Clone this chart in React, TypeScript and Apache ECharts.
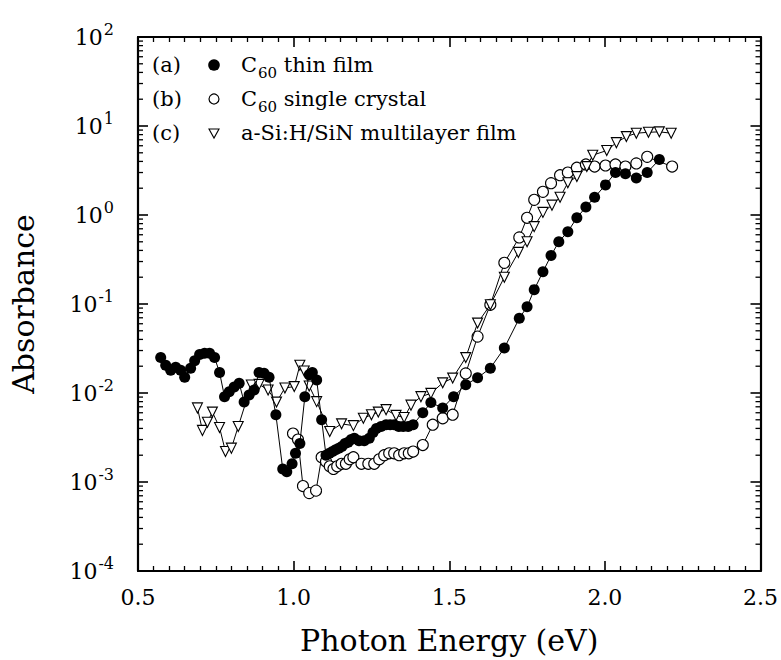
import React, { useEffect, useRef } from "react";
import * as echarts from "echarts";

// (a) C60 thin film  (filled circles)
const energyA = [0.573, 0.589, 0.605, 0.621, 0.637, 0.650, 0.669, 0.682, 0.698, 0.714, 0.730, 0.746, 0.762, 0.778, 0.793, 0.809, 0.825, 0.841, 0.857, 0.873, 0.889, 0.905, 0.921, 0.943, 0.965, 0.978, 0.995, 1.006, 1.020, 1.036, 1.050, 1.060, 1.074, 1.090, 1.104, 1.115, 1.125, 1.135, 1.145, 1.155, 1.165, 1.175, 1.185, 1.195, 1.210, 1.227, 1.243, 1.255, 1.266, 1.281, 1.297, 1.310, 1.323, 1.338, 1.352, 1.368, 1.384, 1.415, 1.441, 1.479, 1.514, 1.553, 1.591, 1.632, 1.677, 1.725, 1.750, 1.773, 1.801, 1.827, 1.852, 1.881, 1.910, 1.939, 1.967, 2.002, 2.034, 2.066, 2.101, 2.136, 2.175];
const absA = [0.025, 0.0205, 0.018, 0.0195, 0.018, 0.015, 0.019, 0.023, 0.027, 0.028, 0.028, 0.025, 0.017, 0.0091, 0.0103, 0.0117, 0.0129, 0.0079, 0.0095, 0.0108, 0.017, 0.0167, 0.015, 0.0057, 0.0014, 0.0013, 0.0016, 0.0021, 0.0027, 0.0091, 0.016, 0.017, 0.014, 0.005, 0.002, 0.0021, 0.0022, 0.0023, 0.0024, 0.0025, 0.0027, 0.0028, 0.003, 0.0031, 0.0029, 0.0029, 0.0031, 0.0036, 0.004, 0.0042, 0.0044, 0.0044, 0.0044, 0.0042, 0.0042, 0.0042, 0.0044, 0.006, 0.0078, 0.0068, 0.0091, 0.0124, 0.0148, 0.019, 0.032, 0.069, 0.093, 0.145, 0.23, 0.35, 0.5, 0.65, 0.93, 1.23, 1.58, 2.18, 3.0, 2.9, 2.6, 3.0, 4.2];

// (b) C60 single crystal (open circles)
const energyB = [0.998, 1.014, 1.030, 1.050, 1.072, 1.090, 1.104, 1.116, 1.128, 1.140, 1.154, 1.168, 1.180, 1.192, 1.218, 1.240, 1.259, 1.275, 1.291, 1.307, 1.323, 1.339, 1.355, 1.370, 1.384, 1.415, 1.447, 1.479, 1.511, 1.553, 1.591, 1.632, 1.677, 1.725, 1.750, 1.773, 1.801, 1.827, 1.856, 1.881, 1.910, 1.939, 1.967, 2.002, 2.034, 2.066, 2.101, 2.136, 2.216];
const absB = [0.0035, 0.003, 0.0009, 0.00075, 0.0008, 0.0019, 0.0017, 0.0015, 0.0014, 0.0015, 0.0016, 0.0016, 0.0018, 0.0019, 0.0016, 0.0016, 0.0016, 0.0018, 0.002, 0.0021, 0.0021, 0.002, 0.0021, 0.0021, 0.0022, 0.0026, 0.0044, 0.0052, 0.0057, 0.0166, 0.043, 0.098, 0.29, 0.56, 0.93, 1.48, 1.82, 2.28, 2.8, 3.0, 3.4, 3.7, 3.5, 3.6, 3.7, 3.5, 3.8, 4.5, 3.5];

// (c) a-Si:H/SiN multilayer film (open down-triangles)
const energyC = [0.691, 0.707, 0.723, 0.739, 0.762, 0.781, 0.800, 0.822, 0.864, 0.889, 0.918, 0.945, 0.972, 1.002, 1.020, 1.034, 1.050, 1.074, 1.116, 1.154, 1.192, 1.224, 1.250, 1.272, 1.297, 1.329, 1.355, 1.377, 1.409, 1.441, 1.479, 1.511, 1.553, 1.591, 1.632, 1.677, 1.722, 1.750, 1.773, 1.801, 1.830, 1.856, 1.881, 1.910, 1.942, 1.961, 2.006, 2.037, 2.069, 2.101, 2.140, 2.175, 2.213];
const absC = [0.0068, 0.0038, 0.0047, 0.0061, 0.0041, 0.0022, 0.0024, 0.0042, 0.0123, 0.0125, 0.0108, 0.0079, 0.0114, 0.0118, 0.0205, 0.0177, 0.012, 0.008, 0.0037, 0.0045, 0.0043, 0.0052, 0.0057, 0.0061, 0.0065, 0.0056, 0.0053, 0.0073, 0.0091, 0.0099, 0.013, 0.0147, 0.025, 0.061, 0.098, 0.2, 0.38, 0.5, 0.74, 1.07, 1.29, 1.58, 2.3, 2.7, 3.5, 4.7, 5.3, 6.5, 7.6, 8.3, 8.5, 8.6, 8.3];

const xTickLabels = ["0.5", "1.0", "1.5", "2.0", "2.5"];
const yDecades = [-4, -3, -2, -1, 0, 1, 2];
const legendTags = ["(a)", "(b)", "(c)"];
const legendNames = ["{m|C}{sub|60}{m| thin film}", "{m|C}{sub|60}{m| single crystal}", "{m|a-Si:H/SiN multilayer film}"];

const FONT = '"DejaVu Serif", serif';

export default function App() {
  const ref = useRef<HTMLDivElement>(null);
  useEffect(() => {
    document.body.style.margin = "0";
    const chart = echarts.init(ref.current!, null, { renderer: "svg" });
    const minorVals: number[][] = [];
    for (let i = 0; i < yDecades.length - 1; i++) {
      for (let k = 2; k <= 9; k++) minorVals.push([0.5, k * Math.pow(10, yDecades[i])]);
    }
    const pair = (xs: number[], ys: number[]) => xs.map((x, i) => [x, ys[i]]);
    const xAxisBase = {
      type: "value" as const,
      min: 0.5,
      max: 2.5,
      interval: 0.5,
      splitLine: { show: false },
      axisLine: { show: true, onZero: false, lineStyle: { color: "#000", width: 2.2 } },
      axisTick: { show: true, inside: true, length: 10, lineStyle: { color: "#000", width: 1.6 } },
      minorTick: { show: true, splitNumber: 10, length: 5, lineStyle: { color: "#000", width: 1.3 } },
    };
    const yAxisBase = {
      type: "log" as const,
      logBase: 10,
      min: 1e-4,
      max: 1e2,
      splitLine: { show: false },
      axisLine: { show: true, onZero: false, lineStyle: { color: "#000", width: 2.2 } },
      axisTick: { show: true, inside: true, length: 10, lineStyle: { color: "#000", width: 1.6 } },
    };
    const legendY = [65, 99, 133];
    const graphics: any[] = [];
    legendTags.forEach((tag, i) => {
      graphics.push({
        type: "text",
        x: 152,
        y: legendY[i],
        style: { text: tag, fontFamily: FONT, fontSize: 21, fill: "#000", verticalAlign: "middle" },
      });
      if (i === 0) {
        graphics.push({ type: "circle", shape: { cx: 214, cy: legendY[i], r: 5.8 }, style: { fill: "#000" } });
      } else if (i === 1) {
        graphics.push({ type: "circle", shape: { cx: 214, cy: legendY[i], r: 5 }, style: { fill: "#fff", stroke: "#000", lineWidth: 1.2 } });
      } else {
        graphics.push({
          type: "polygon",
          shape: { points: [[209, legendY[i] - 4], [219, legendY[i] - 4], [214, legendY[i] + 5]] },
          style: { fill: "#fff", stroke: "#000", lineWidth: 1.1 },
        });
      }
      graphics.push({
        type: "text",
        x: 241,
        y: legendY[i],
        style: {
          text: legendNames[i],
          verticalAlign: "middle",
          rich: {
            m: { fontFamily: FONT, fontSize: 21, fill: "#000" },
            sub: { fontFamily: FONT, fontSize: 15, fill: "#000", padding: [15, 0, 0, 1] },
          },
        },
      });
    });

    chart.setOption({
      animation: false,
      backgroundColor: "#fff",
      grid: { left: 135, right: 19, top: 37, bottom: 88 },
      xAxis: [
        {
          ...xAxisBase,
          position: "bottom",
          axisLabel: {
            show: true,
            margin: 15,
            fontFamily: FONT,
            fontSize: 22,
            color: "#000",
            formatter: (v: number) => xTickLabels[Math.round((v - 0.5) / 0.5)] ?? "",
          },
          name: "Photon Energy (eV)",
          nameLocation: "middle",
          nameGap: 54,
          nameTextStyle: { fontFamily: FONT, fontSize: 30, color: "#000", verticalAlign: "top" },
        },
        { ...xAxisBase, position: "top", axisLabel: { show: false } },
      ],
      yAxis: [
        {
          ...yAxisBase,
          position: "left",
          axisLabel: {
            show: true,
            margin: 24,
            formatter: (v: number) => {
              const e = Math.round(Math.log10(v));
              return "{b|10}{s|" + (e < 0 ? "-" : "") + Math.abs(e) + "}";
            },
            rich: {
              b: { fontFamily: FONT, fontSize: 22, color: "#000" },
              s: { fontFamily: FONT, fontSize: 16, color: "#000", padding: [0, 0, 16, 1] },
            },
          },
          name: "Absorbance",
          nameLocation: "middle",
          nameGap: 100,
          nameRotate: 90,
          nameTextStyle: { fontFamily: FONT, fontSize: 30, color: "#000" },
        },
        { ...yAxisBase, position: "right", axisLabel: { show: false } },
      ],
      graphic: graphics,
      series: [
        {
          type: "custom",
          xAxisIndex: 0,
          yAxisIndex: 0,
          silent: true,
          clip: false,
          z: 5,
          data: minorVals,
          renderItem: (_p: any, api: any) => {
            const v = api.value(1);
            const l = api.coord([0.5, v]);
            const r = api.coord([2.5, v]);
            return {
              type: "group",
              children: [
                { type: "line", shape: { x1: l[0], y1: l[1], x2: l[0] + 5, y2: l[1] }, style: { stroke: "#000", lineWidth: 1.3 } },
                { type: "line", shape: { x1: r[0] - 5, y1: r[1], x2: r[0], y2: r[1] }, style: { stroke: "#000", lineWidth: 1.3 } },
              ],
            };
          },
        },
        {
          name: "b",
          type: "line",
          data: pair(energyB, absB),
          symbol: "circle",
          symbolSize: 11,
          showAllSymbol: true,
          lineStyle: { color: "#000", width: 1 },
          itemStyle: { color: "#fff", borderColor: "#000", borderWidth: 1.1 },
          z: 2,
        },
        {
          name: "c",
          type: "line",
          data: pair(energyC, absC),
          symbol: "triangle",
          symbolRotate: 180,
          symbolSize: 10,
          showAllSymbol: true,
          lineStyle: { color: "#000", width: 1 },
          itemStyle: { color: "#fff", borderColor: "#000", borderWidth: 1.1 },
          z: 3,
        },
        {
          name: "a",
          type: "line",
          data: pair(energyA, absA),
          symbol: "circle",
          symbolSize: 11,
          showAllSymbol: true,
          lineStyle: { color: "#000", width: 1 },
          itemStyle: { color: "#000", borderColor: "#000", borderWidth: 0 },
          z: 4,
        },
      ],
    });
    return () => chart.dispose();
  }, []);
  return <div ref={ref} style={{ width: 781, height: 660, background: "#fff" }} />;
}
